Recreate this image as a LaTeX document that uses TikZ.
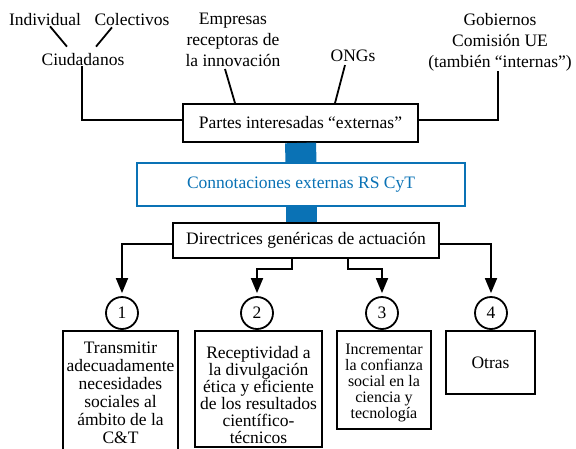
\documentclass[tikz,border=0pt]{standalone}
\usepackage{fontspec}
\setmainfont{Liberation Serif}
\usetikzlibrary{arrows.meta}
\definecolor{rsblue}{HTML}{0A72B5}
\begin{document}
\begin{tikzpicture}[x=1pt,y=-1pt,
  lbl/.style={inner sep=0pt,align=center,font=\fontsize{17.5}{21}\selectfont},
  frame/.style={draw,line width=1.8pt,inner sep=0pt,align=center,font=\fontsize{17.5}{18.3}\selectfont},
  num/.style={draw,circle,line width=1.8pt,minimum size=32pt,inner sep=0pt,font=\fontsize{17.5}{18}\selectfont},
  ln/.style={line width=1.8pt},
  arr/.style={line width=1.8pt,-{Triangle[width=12pt,length=15pt]},shorten >=3pt},
  bar/.style={line width=31pt,draw=rsblue}]
\useasboundingbox (0,0) rectangle (576,448);
\clip (0,0) rectangle (576,448);
% top labels
\node[lbl] (indiv) at (45,20) {Individual};
\node[lbl] (colec) at (132,20) {Colectivos};
\node[lbl] (ciud) at (83,60) {Ciudadanos};
\node[lbl] (empresas) at (233,40) {Empresas\\receptoras de\\la innovación};
\node[lbl] (ongs) at (353,56) {ONGs};
\node[lbl] (gob) at (500,42) {Gobiernos\\Comisión UE\\(también “internas”)};
% main boxes
\node[frame,minimum width=235pt,minimum height=38pt] (partes) at (300.5,123) {Partes interesadas “externas”};
\node[frame,draw=rsblue,text=rsblue,line width=1.6pt,minimum width=328pt,minimum height=43pt] (conn) at (301,184.5) {Connotaciones externas RS CyT};
\node[frame,minimum width=266pt,minimum height=35pt] (direc) at (306,240.5) {Directrices genéricas de actuación};
% circles
\node[num] (c1) at (122,313) {1};
\node[num] (c2) at (257,313) {2};
\node[num] (c3) at (382,313) {3};
\node[num] (c4) at (491,313) {4};
% bottom boxes
\node[frame,minimum width=115pt,minimum height=121pt,font=\fontsize{17.5}{18}\selectfont] (b1) at (120.5,391.5) {\rule{0pt}{14pt}Transmitir\\adecuadamente\\necesidades\\sociales al\\ámbito de la\\C\&T};
\node[frame,minimum width=127pt,minimum height=116pt,font=\fontsize{17.5}{17}\selectfont] (b2) at (258.5,389) {\rule{0pt}{23.5pt}Receptividad a\\la divulgación\\ética y eficiente\\de los resultados\\científico-\\técnicos};
\node[frame,minimum width=94pt,minimum height=98pt,font=\fontsize{16}{16}\selectfont] (b3) at (384,380) {\rule{0pt}{17pt}Incrementar\\la confianza\\social en la\\ciencia y\\tecnología};
\node[frame,minimum width=89pt,minimum height=63pt] (b4) at (490.5,362.5) {Otras};
% connectors top
\draw[ln] ([shift={(5,0)}]indiv.south) -- ([shift={(-16,-7)}]ciud.north);
\draw[ln] ([shift={(-20,1)}]colec.south) -- ([shift={(13,-7)}]ciud.north);
\draw[ln] ([shift={(-1,0)}]ciud.south) |- ([yshift=3pt]partes.west);
\draw[ln] ([shift={(-8,2)}]empresas.south) -- ([xshift=-65.5pt]partes.north);
\draw[ln] ([shift={(-8,3)}]ongs.south) -- ([xshift=34.5pt]partes.north);
\draw[ln] ([shift={(-2,0)}]gob.south) |- ([yshift=3pt]partes.east);
% blue bars
\draw[bar] (partes.south) -- (conn.north);
\draw[bar] (conn.south) -- (conn.south |- direc.north);
% arrows
\draw[arr] ([yshift=-3.5pt]direc.west) -| (c1.north);
\draw[arr] ([xshift=-14pt]direc.south) -- ++(0,10) -| (c2.north);
\draw[arr] ([xshift=42pt]direc.south) -- ++(0,10) -| (c3.north);
\draw[arr] ([yshift=-3.5pt]direc.east) -| (c4.north);
\end{tikzpicture}
\end{document}
